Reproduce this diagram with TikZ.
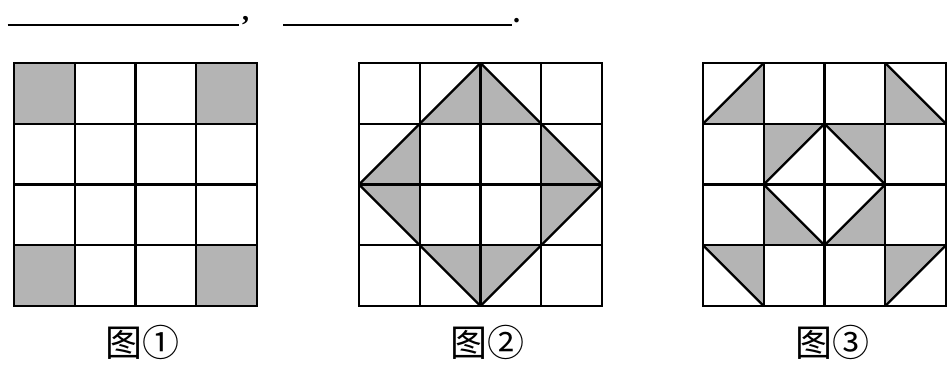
\documentclass[tikz,border=0pt]{standalone}
\usepackage{fontspec}
\newfontfamily\cjk{Noto Sans CJK SC}
\setmainfont{Liberation Serif}
\definecolor{shade}{RGB}{180,180,180}
\tikzset{
  gridline/.style={line width=2.3pt, black, line cap=rect},
  shadefill/.style={fill=shade},
  blank/.style={line width=2pt, black, line cap=butt},
  caption/.style={font=\cjk\fontsize{37}{40}\selectfont, inner sep=0pt, anchor=center},
  punct/.style={font=\bfseries\fontsize{28}{30}\selectfont, inner sep=0pt, anchor=base west}
}
\newcommand{\gridlines}{%
  \foreach \k in {0,...,4} {
    \draw[gridline] (\k,0) -- (\k,4);
    \draw[gridline] (0,\k) -- (4,\k);
  }}
\begin{document}
\begin{tikzpicture}[x=1pt,y=-1pt]
\useasboundingbox (0,0) rectangle (947,365);
% top answer blanks
\coordinate (b1s) at (7.7,25);
\coordinate (b1e) at (239,25);
\coordinate (b2s) at (283,25);
\coordinate (b2e) at (512,25);
\draw[blank] (b1s) -- (b1e);
\draw[blank] (b2s) -- (b2e);
\node[punct] (comma) at (242,20) {,};
\node[punct] (dot) at (513,22) {.};
% grid 1
\begin{scope}[shift={(14,63)}, xscale=60.75, yscale=60.75]
  \fill[shadefill] (0,0) rectangle (1,1) (3,0) rectangle (4,1)
                   (0,3) rectangle (1,4) (3,3) rectangle (4,4);
  \gridlines
\end{scope}
% grid 2
\begin{scope}[shift={(359,63)}, xscale=60.75, yscale=60.75]
  \fill[shadefill] (1,1) -- (2,0) -- (3,1) -- cycle
                   (3,1) -- (4,2) -- (3,3) -- cycle
                   (3,3) -- (2,4) -- (1,3) -- cycle
                   (1,3) -- (0,2) -- (1,1) -- cycle;
  \gridlines
  \draw[gridline, line join=round] (2,0) -- (4,2) -- (2,4) -- (0,2) -- cycle;
\end{scope}
% grid 3
\begin{scope}[shift={(703,63)}, xscale=60.75, yscale=60.75]
  \fill[shadefill] (0,1) -- (1,0) -- (1,1) -- cycle
                   (3,0) -- (3,1) -- (4,1) -- cycle
                   (0,3) -- (1,3) -- (1,4) -- cycle
                   (3,3) -- (4,3) -- (3,4) -- cycle;
  \fill[shadefill, even odd rule] (1,1) rectangle (3,3)
                   (2,1) -- (3,2) -- (2,3) -- (1,2) -- cycle;
  \gridlines
  \draw[gridline, line cap=round] (0,1) -- (1,0) (3,0) -- (4,1) (0,3) -- (1,4) (3,4) -- (4,3);
  \draw[gridline, line join=round] (2,1) -- (3,2) -- (2,3) -- (1,2) -- cycle;
\end{scope}
% captions
\node[caption] (cap1) at (142,342) {图①};
\node[caption] (cap2) at (487,342) {图②};
\node[caption] (cap3) at (832,342) {图③};
\end{tikzpicture}
\end{document}
